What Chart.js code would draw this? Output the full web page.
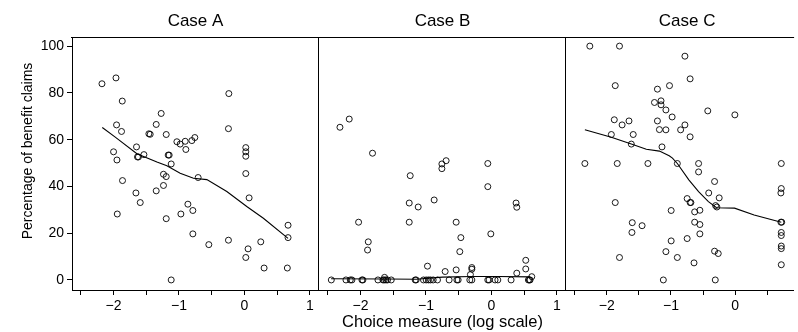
<!DOCTYPE html>
<html>
<head>
<meta charset="utf-8">
<script src="https://cdn.jsdelivr.net/npm/chart.js@4/dist/chart.umd.min.js"></script>
<style>
  html, body { margin: 0; padding: 0; background: #fff; }
  #wrap { position: relative; width: 798px; height: 332px; overflow: hidden; background: #fff; }
  canvas { position: absolute; top: 0; }
</style>
</head>
<body>
<div id="wrap">
  <canvas id="cA" width="330" height="332" style="left:0px"></canvas>
  <canvas id="cB" width="270" height="332" style="left:309px"></canvas>
  <canvas id="cC" width="242" height="332" style="left:556px"></canvas>
</div>
<script>
// ---------- data ----------
const panelTitles = ['Case A', 'Case B', 'Case C'];
const xAxisTitle = 'Choice measure (log scale)';
const yAxisTitle = 'Percentage of benefit claims';
const xTickValues = [-2.5, -2, -1.5, -1, -0.5, 0, 0.5, 1];
const yTickValues = [0, 20, 40, 60, 80, 100];

const caseAX = [-2.177,-1.963,-1.867,-1.954,-1.878,-2.0,-1.948,-1.863,-1.943,-1.649,
  -1.634,-1.62,-1.536,-1.658,-1.592,-1.46,-1.44,-1.348,-1.272,-1.195,
  -1.237,-1.195,-1.237,-1.348,-1.195,-1.165,-1.15,-1.119,-1.119,-1.032,
  -0.982,-0.905,-0.803,-0.758,-0.895,-0.864,-0.971,-0.788,-0.788,-0.707,
  -0.544,-0.238,-0.244,-0.244,0.021,0.021,0.021,0.021,0.072,0.021,
  0.056,0.25,0.301,0.667,0.667,0.656];
const caseAY = [83.9,86.4,76.5,66.3,63.5,54.8,51.3,42.5,28.2,56.9,
  52.6,52.6,53.6,37.2,33.1,62.5,62.3,66.5,71.2,62.2,
  45.2,44.2,40.4,38.1,26.2,53.4,53.4,49.6,0,59.1,
  58.1,59.3,59.6,60.9,55.8,32.4,28.2,29.7,19.7,43.8,
  15.1,79.7,64.7,17.0,56.6,54.8,52.9,45.5,35.1,9.6,
  13.3,16.3,5.1,23.4,18.1,5.1];
const caseALineX = [-2.172,-1.974,-1.643,-1.337,-1.185,-0.982,-0.778,-0.574,-0.269,0.036,0.29,0.667];
const caseALineY = [65.2,61.1,54.0,50.4,48.8,45.6,43.5,42.9,37.8,31.4,26.4,17.8];

const caseBX = [-2.315,-2.173,-1.817,-2.03,-1.882,-1.893,-1.241,-1.256,-1.119,-1.256,
  -0.875,-0.757,-0.692,-0.757,-0.977,-0.707,-0.539,-0.467,-0.483,-0.539,
  -0.299,-0.299,-0.321,-0.055,-0.055,-0.009,0.377,0.388,0.525,0.525,
  0.388,0.617,-1.633,
  -2.447,-2.223,-2.157,-2.132,-1.979,-1.964,-1.734,-1.658,-1.638,-1.612,
  -1.588,-1.531,-1.165,-1.15,-1.038,-0.997,-0.962,-0.931,-0.89,-0.824,
  -0.646,-0.528,-0.508,-0.33,-0.299,-0.055,-0.035,0.056,0.098,0.301,
  0.565,0.58,0.591];
const caseBY = [65.3,68.8,54.2,24.7,16.3,12.8,44.6,32.9,31.2,24.7,
  34.2,49.6,51.0,47.6,5.9,3.6,24.7,18.1,12.1,4.3,
  5.3,4.6,2.3,49.8,39.9,19.7,32.9,31.1,8.4,4.7,
  2.9,1.4,1.1,
  0,0,0,0,0,0,0,0,0,0,
  0,0,0,0,0,0,0,0,0,0,
  0,0,0,0,0,0,0,0,0,0,
  0,0,0];
const caseBLineX = [-2.45,-1.6,-1.15,-0.75,-0.3,0.1,0.59];
const caseBLineY = [0.5,0.4,0.3,1.2,1.5,1.5,1.3];

const caseCX = [-2.264,-1.802,-0.783,-0.702,-1.868,-1.211,-1.023,-1.257,-1.155,-1.155,
  -1.079,-0.427,-0.005,-1.883,-1.761,-1.654,-1.211,-0.982,-1.18,-1.079,
  -0.85,-0.783,-0.702,-1.929,-1.588,-1.618,-1.14,-2.341,-1.837,-1.359,
  -0.901,-0.57,-0.57,-0.321,-0.412,-0.249,-0.748,-0.702,-0.69,-0.305,
  -0.285,-1.868,-0.997,-0.631,-0.55,-1.603,-1.45,-0.631,-0.55,-1.608,
  -0.55,-0.748,-0.997,-1.079,-0.901,-0.641,-0.321,-0.264,-1.802,-1.119,
  -0.31,0.718,0.718,0.712,0.712,0.725,0.718,0.718,0.718,0.718,0.718];
const caseCY = [100,100,95.7,86.0,83.1,81.6,83.1,75.9,76.6,74.9,
  72.7,72.3,70.6,68.5,66.3,68.0,68.0,69.7,64.3,64.2,
  64.2,66.3,61.2,62.2,62.2,58.1,56.9,49.8,49.8,49.8,
  49.8,49.8,46.2,42.1,37.2,35.1,34.8,33.1,33.1,31.8,
  31.2,33.1,29.7,29.1,29.8,24.5,23.2,24.7,23.7,20.3,
  19.7,17.7,16.7,12.1,9.6,7.3,12.3,11.3,9.6,0,
  0,49.8,39.1,37.2,24.7,24.7,20.3,19.0,14.5,13.4,6.5];
const caseCLineX = [-2.341,-1.929,-1.618,-1.384,-1.18,-1.028,-0.977,-0.901,-0.722,-0.57,-0.417,-0.29,-0.01,0.295,0.718];
const caseCLineY = [64.2,61.0,58.1,55.9,55.1,53.1,52.1,49.8,42.8,37.8,33.5,30.9,30.7,27.8,24.7];

// ---------- rendering ----------
const FONT = "'Liberation Sans', Arial, Helvetica, sans-serif";
Chart.defaults.font.family = FONT;
Chart.defaults.color = '#000';

const X_MIN = -2.635, X_MAX_FULL = 1.14;
const Y_MIN = -4.3, Y_MAX = 103.9;

const toPts = (xs, ys) => xs.map((x, i) => ({x: x, y: ys[i]}));

const framePlugin = {
  id: 'frame',
  afterDraw(chart, args, opts) {
    const {ctx, chartArea: a} = chart;
    ctx.save();
    ctx.strokeStyle = '#000';
    ctx.lineWidth = 1;
    const L = Math.round(a.left) - 0.5, R = Math.round(a.right) - 0.5, T = Math.round(a.top) + 0.5, B = Math.round(a.bottom);
    ctx.beginPath();
    if (opts.top) { ctx.moveTo(a.left - 1, T); ctx.lineTo(a.right + 1, T); }
    if (opts.left) { ctx.moveTo(L, a.top); ctx.lineTo(L, B); }
    if (opts.right) { ctx.moveTo(R, a.top); ctx.lineTo(R, B); }
    ctx.stroke();
    // panel title, centred on the full (uncropped) panel range
    const xs = chart.scales.x;
    const cx = xs.getPixelForValue((X_MIN + X_MAX_FULL) / 2);
    ctx.fillStyle = '#000';
    ctx.font = '17px ' + FONT;
    ctx.textAlign = 'center';
    ctx.textBaseline = 'middle';
    ctx.fillText(opts.title, cx, 21);
    if (opts.yTitle) {
      ctx.save();
      ctx.translate(28.5, 151);
      ctx.rotate(-Math.PI / 2);
      ctx.font = '14px ' + FONT;
      ctx.fillText(opts.yTitle, 0, 0);
      ctx.restore();
    }
    ctx.restore();
  }
};

function fmtTick(v) {
  if (Math.abs(v - Math.round(v)) > 1e-9) return '';
  const r = Math.round(v);
  return r < 0 ? '\u2212' + Math.abs(r) : String(r);
}

function makePanel(id, cfg) {
  const ctx = document.getElementById(id).getContext('2d');
  return new Chart(ctx, {
    type: 'scatter',
    data: {
      datasets: [
        {
          data: toPts(cfg.lx, cfg.ly),
          showLine: true,
          borderColor: '#000',
          borderWidth: 1.1,
          pointRadius: 0,
          fill: false,
          tension: 0
        },
        {
          data: toPts(cfg.px, cfg.py),
          pointStyle: 'circle',
          pointRadius: 3,
          pointBorderWidth: 0.9,
          borderColor: '#000',
          backgroundColor: 'rgba(0,0,0,0)',
          showLine: false
        }
      ]
    },
    options: {
      responsive: false,
      animation: false,
      devicePixelRatio: 1,
      layout: { padding: { top: 37, left: cfg.padL, right: cfg.padR, bottom: 0 } },
      plugins: {
        legend: { display: false },
        tooltip: { enabled: false },
        title: { display: false },
        frame: { top: true, left: cfg.frameLeft, right: cfg.frameRight, title: cfg.title, yTitle: cfg.yTitle }
      },
      scales: {
        x: {
          type: 'linear',
          min: X_MIN,
          max: cfg.xmax,
          afterBuildTicks(scale) {
            scale.ticks = xTickValues.filter(v => v >= scale.min && v <= scale.max).map(v => ({value: v}));
          },
          afterFit(scale) { scale.height = 42; },
          ticks: {
            autoSkip: false,
            maxRotation: 0,
            padding: 3,
            color: '#000',
            font: { size: 14 },
            callback: (v) => fmtTick(v)
          },
          grid: { display: true, drawOnChartArea: false, drawTicks: true, tickLength: 5, tickColor: '#000', color: '#000' },
          border: { display: true, color: '#000', width: 1 },
          title: {
            display: !!cfg.xTitle,
            text: cfg.xTitle || '',
            color: '#000',
            font: { size: 16.5 },
            padding: { top: 0, bottom: 0 }
          }
        },
        y: {
          type: 'linear',
          display: cfg.showY,
          min: Y_MIN,
          max: Y_MAX,
          afterBuildTicks(scale) {
            scale.ticks = yTickValues.map(v => ({value: v}));
          },
          afterFit(scale) { if (cfg.showY) scale.width = 72; },
          ticks: { color: '#000', font: { size: 14 }, padding: 3 },
          grid: { display: true, drawOnChartArea: false, drawTicks: true, tickLength: 5, tickColor: '#000', color: '#000' },
          border: { display: true, color: '#000', width: 1 }
        }
      }
    },
    plugins: [framePlugin]
  });
}

makePanel('cA', { px: caseAX, py: caseAY, lx: caseALineX, ly: caseALineY,
  xmax: X_MAX_FULL, padL: 0, padR: 11, showY: true, frameLeft: false, frameRight: true,
  title: panelTitles[0], yTitle: yAxisTitle });
makePanel('cB', { px: caseBX, py: caseBY, lx: caseBLineX, ly: caseBLineY,
  xmax: X_MAX_FULL, padL: 10, padR: 13, showY: false, frameLeft: true, frameRight: true,
  title: panelTitles[1], xTitle: xAxisTitle });
makePanel('cC', { px: caseCX, py: caseCY, lx: caseCLineX, ly: caseCLineY,
  xmax: 0.902, padL: 10, padR: 0, showY: false, frameLeft: true, frameRight: false,
  title: panelTitles[2] });
</script>
</body>
</html>
